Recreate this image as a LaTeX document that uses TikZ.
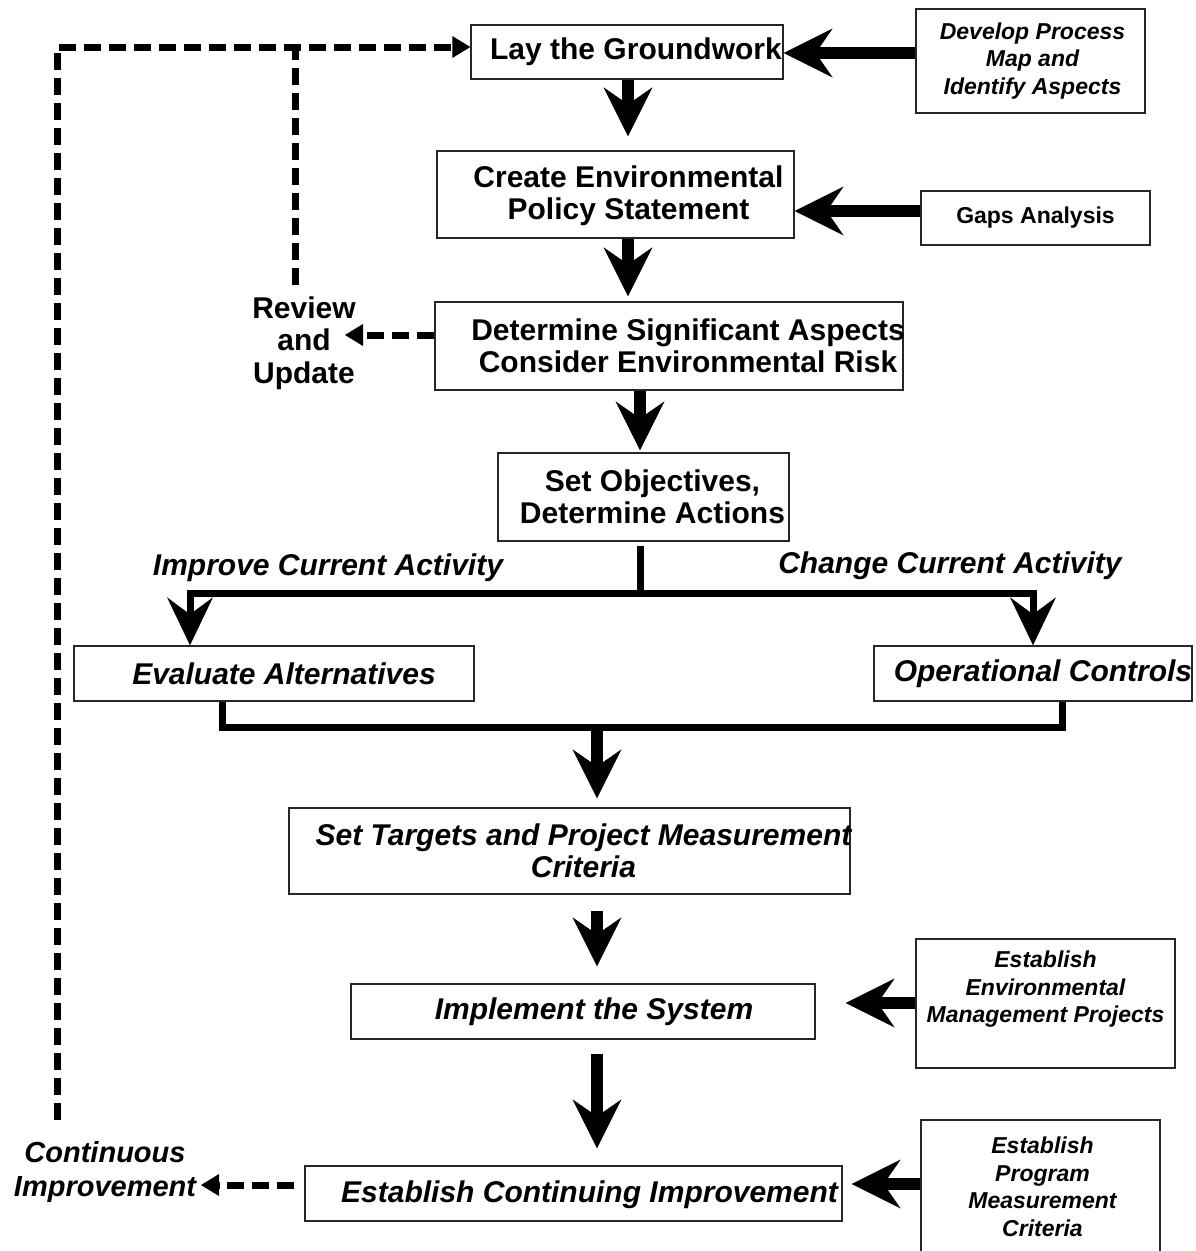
\documentclass[tikz,border=0pt]{standalone}
\usepackage{fontspec}
\setmainfont{Liberation Sans}
\usetikzlibrary{arrows.meta}
\newcommand{\FBig}{\fontsize{30}{32.5}\selectfont\bfseries}
\newcommand{\FBigI}{\FBig\itshape}
\newcommand{\FSm}{\fontsize{23}{27.5}\selectfont\bfseries}
\newcommand{\FSmI}{\FSm\itshape}
\tikzset{
 box/.style={draw=black!85, line width=1.4pt, rectangle, inner sep=0pt},
 big/.style={font=\FBig, align=center},
 bigi/.style={font=\FBigI, align=center},
 sm/.style={font=\FSm, align=center},
 smi/.style={font=\FSmI, align=center},
 heavy/.style={line width=12pt, -{Stealth[length=49pt,width=49pt,inset=17pt,line width=0pt]}},
 branch/.style={line width=7pt},
 brancharrow/.style={line width=7pt, -{Stealth[length=48pt,width=46pt,inset=17pt,line width=0pt]}},
 dashline/.style={line width=7pt, dash pattern=on 17pt off 8pt},
 dasharrow/.style={dashline, -{Triangle[length=18pt,width=22pt,line width=0pt]}},
}
\begin{document}
\begin{tikzpicture}[x=1pt,y=-1pt]
\useasboundingbox (0,0) rectangle (1195,1251);
\clip (0,0) rectangle (1195,1251);
\fill[white] (0,0) rectangle (1195,1251);

% boxes
\node[box, minimum width=312pt, minimum height=54pt, label={[big, xshift=9pt]center:Lay the Groundwork}] (lay) at (627,52) {};
\node[box, minimum width=229pt, minimum height=104pt, label={[smi, xshift=2pt]center:Develop Process\\Map and\\Identify Aspects}] (dev) at (1030.5,61) {};
\node[box, minimum width=357pt, minimum height=87pt, label={[big, xshift=13pt, yshift=-1pt]center:Create Environmental\\Policy Statement}] (pol) at (615.5,194.5) {};
\node[box, minimum width=229pt, minimum height=54pt, label={[sm]center:Gaps Analysis}] (gaps) at (1035.5,218) {};
\node[box, minimum width=468pt, minimum height=88pt, label={[big, xshift=19pt]center:Determine Significant Aspects\\Consider Environmental Risk}] (det) at (669,346) {};
\node[box, minimum width=291pt, minimum height=88pt, label={[big, xshift=9pt]center:{Set Objectives,\\Determine Actions}}] (obj) at (643.5,497) {};
\node[box, minimum width=400pt, minimum height=55pt, label={[bigi, xshift=10pt]center:Evaluate Alternatives}] (eval) at (274,673.5) {};
\node[box, minimum width=318pt, minimum height=55pt, label={[bigi, xshift=10pt]center:Operational Controls}] (ops) at (1033,673.5) {};
\node[box, minimum width=561pt, minimum height=86pt, label={[bigi, xshift=14pt]center:Set Targets and Project Measurement\\Criteria}] (tgt) at (569.5,851) {};
\node[box, minimum width=464pt, minimum height=55pt, label={[bigi, xshift=11pt]center:Implement the System}] (imp) at (583,1011.5) {};
\node[box, minimum width=259pt, minimum height=129pt, label={[smi, yshift=14pt]center:Establish\\Environmental\\Management Projects}] (emp) at (1045.5,1003.5) {};
\node[box, minimum width=537pt, minimum height=55pt, label={[bigi, xshift=16pt, yshift=-1pt]center:Establish Continuing Improvement}] (eci) at (573.5,1193.5) {};
\node[box, minimum width=239pt, minimum height=150pt, label={[smi, xshift=2pt, yshift=8pt]center:Establish\\Program\\Measurement\\Criteria}] (epm) at (1040.5,1195) {};

% free labels
\node[big] (rev) at (304,343) {Review\\and\\Update};
\node[bigi] (imprv) at (328,568) {Improve Current Activity};
\node[bigi] (chg) at (950,566) {Change Current Activity};
\node[font=\fontsize{29}{34}\selectfont\bfseries\itshape, align=center] (cont) at (105,1172) {Continuous\\Improvement};

% helper coordinates
\coordinate (colA) at (628,0);
\coordinate (colB) at (640,0);
\coordinate (colC) at (597,0);
\coordinate (split) at (640,593);
\coordinate (merge) at (597,727);
\coordinate (topleft) at (57,47);
\coordinate (fbbottom) at (57,1120);
\coordinate (rvtop) at (295,285);
\coordinate (rvtip) at (345,335);
\coordinate (citip) at (201,1185);
\coordinate (rowL) at (0,53);
\coordinate (rowG) at (0,211);
\coordinate (rowE) at (0,1003);
\coordinate (rowP) at (0,1184);

% main flow
\draw[heavy, shorten >=14pt] (colA |- lay.south) -- (colA |- pol.north);
\draw[heavy, shorten >=5pt] (colA |- pol.south) -- (colA |- det.north);
\draw[heavy, shorten >=2pt] (colB |- det.south) -- (colB |- obj.north);
\draw[branch, shorten <=4pt] (colB |- obj.south) -- (split);
\draw[brancharrow] (split) -| ([xshift=-84pt]eval.north);
\draw[brancharrow] (split) -| (ops.north);
\draw[branch] ([xshift=-52pt]eval.south) |- (merge) -| ([xshift=29pt]ops.south);
\draw[heavy, shorten >=9pt] (merge) -- (merge |- tgt.north);
\draw[heavy, shorten <=16pt, shorten >=17pt] (colC |- tgt.south) -- (colC |- imp.north);
\draw[heavy, shorten <=14pt, shorten >=17pt] (colC |- imp.south) -- (colC |- eci.north);

% side inputs
\draw[heavy] (dev.west |- rowL) -- (lay.east |- rowL);
\draw[heavy] (gaps.west |- rowG) -- (pol.east |- rowG);
\draw[heavy, shorten >=30pt] (emp.west |- rowE) -- (imp.east |- rowE);
\draw[heavy, shorten >=9pt] (epm.west |- rowP) -- (eci.east |- rowP);

% feedback loops
\draw[dasharrow] (fbbottom) -- (topleft) -- (topleft -| lay.west);
\draw[dashline] (rvtop) -- (rvtop |- topleft);
\draw[dasharrow] (det.west |- rvtip) -- (rvtip);
\draw[dasharrow, shorten <=10pt] (eci.west |- citip) -- (citip);
\end{tikzpicture}
\end{document}
